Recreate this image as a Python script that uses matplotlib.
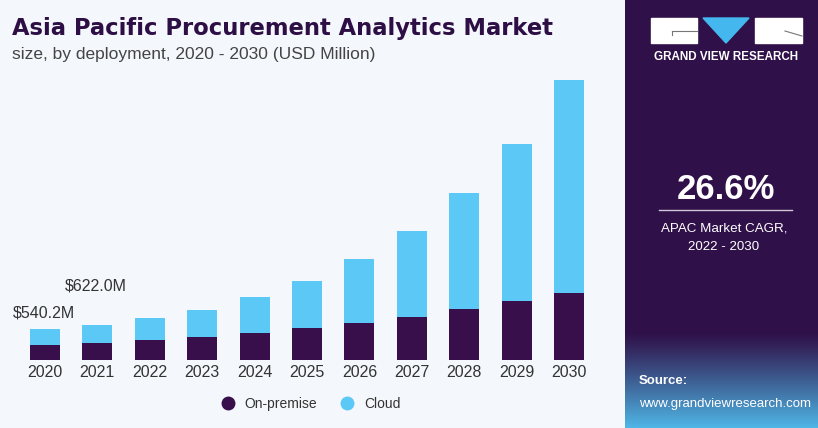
import numpy as np
import matplotlib.pyplot as plt
from matplotlib.patches import Rectangle, Polygon
from matplotlib.lines import Line2D

plt.rcParams['font.family'] = ['Liberation Sans', 'DejaVu Sans']

# data (USD Million)
years = ['2020', '2021', '2022', '2023', '2024', '2025', '2026', '2027', '2028', '2029', '2030']
on_premise = [256, 298, 342, 395, 472, 555, 655, 757, 894, 1047, 1189]
cloud = [284.2, 324, 391, 491, 646, 844, 1129, 1536, 2075, 2784, 3786]
labels = {0: '$540.2M', 1: '$622.0M'}

c_on = '#380f4b'
c_cloud = '#5bc8f5'
c_title = '#2d0f45'
bg = '#f4f7fb'
W, H = 818, 428

fig = plt.figure(figsize=(W / 100, H / 100), dpi=100)
fig.patch.set_facecolor(bg)

# main bar chart
ax = fig.add_axes([3 / W, 68.5 / H, 608 / W, 289.5 / H])
ax.set_facecolor(bg)
x = np.arange(len(years))
ax.bar(x, on_premise, width=0.57, color=c_on)
ax.bar(x, cloud, bottom=on_premise, width=0.57, color=c_cloud)
ax.set_xlim(-0.8, 10.8)
ax.set_ylim(0, 5153)
ax.set_xticks(x)
ax.set_xticklabels(years, fontsize=11.5, color='#333333')
ax.tick_params(axis='x', length=0, pad=4)
ax.set_yticks([])
for s in ax.spines.values():
    s.set_visible(False)

totals = np.array(on_premise) + np.array(cloud)
ax.text(x[0] - 0.62, totals[0] + 285, labels[0], fontsize=11.5, color='#333333', va='center', ha='left')
ax.text(x[1] - 0.62, totals[1] + 690, labels[1], fontsize=11.5, color='#333333', va='center', ha='left')

# title
fig.text(12 / W, 1 - 28 / H, 'Asia Pacific Procurement Analytics Market', fontsize=16.3,
         fontweight='bold', color=c_title, va='center', ha='left', family='DejaVu Sans')
fig.text(12 / W, 1 - 54 / H, 'size, by deployment, 2020 - 2030 (USD Million)', fontsize=12.5,
         color='#444444', va='center', ha='left')

# legend
handles = [Line2D([], [], marker='o', ls='', color=c_on, markersize=9),
           Line2D([], [], marker='o', ls='', color=c_cloud, markersize=9)]
fig.legend(handles, ['On-premise', 'Cloud'], loc='center', bbox_to_anchor=(307 / W, 1 - 404 / H),
           ncol=2, frameon=False, fontsize=10, handletextpad=0.25, columnspacing=1.1,
           labelcolor='#333333')

# right panel
pan = fig.add_axes([625 / W, 0, (W - 625) / W, 1])
dark = np.array([0x2f, 0x10, 0x48]) / 255
light = np.array([0x4f, 0xb8, 0xe8]) / 255
rows = np.zeros((H, 1, 3))
for i in range(H):
    t = 0 if i < 332 else ((i - 332) / (H - 332)) ** 1.1
    rows[i, 0] = dark * (1 - t) + light * t
pan.imshow(rows, aspect='auto', extent=[625, W, H, 0])
pan.set_xlim(625, W)
pan.set_ylim(H, 0)
pan.axis('off')

# logo
pan.add_patch(Rectangle((651, 18), 46, 25, color='white'))
pan.add_patch(Polygon([[703, 18], [749, 18], [726, 43]], closed=True, color='#44b8ee'))
pan.add_patch(Rectangle((755, 18), 47, 25, color='white'))
pan.plot([672, 697], [31, 31], color='#777777', lw=0.8)
pan.plot([672, 672], [31, 35], color='#777777', lw=0.8)
pan.plot([785, 802], [31, 36], color='#777777', lw=0.8)
pan.text(726.5, 57, 'GRAND VIEW RESEARCH', color='white', fontsize=8.4, fontweight='bold',
         ha='center', va='center')

pan.text(726, 189, '26.6%', color='white', fontsize=25, fontweight='bold', ha='center', va='center')
pan.plot([659, 792], [210, 210], color='#cfc6d8', lw=1)
pan.text(724, 228, 'APAC Market CAGR,', color='white', fontsize=9.6, ha='center', va='center')
pan.text(724, 247, '2022 - 2030', color='white', fontsize=9.6, ha='center', va='center')

pan.text(639, 381, 'Source:', color='white', fontsize=9.5, fontweight='bold', ha='left', va='center')
pan.text(639, 404, 'www.grandviewresearch.com', color='white', fontsize=9.5, ha='left', va='center')

fig.savefig('out.png', dpi=100, facecolor=fig.get_facecolor())
